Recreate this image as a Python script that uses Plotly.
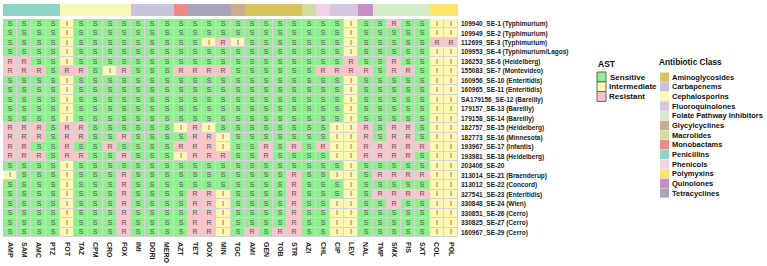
import plotly.graph_objects as go

antibiotics = ["AMP", "SAM", "AMC", "PTZ", "FOT", "TAZ", "CPM", "CRO", "FOX", "IMI", "DORI", "MERO",
               "AZT", "TET", "DOX", "MIN", "TGC", "AMI", "GEN", "TOB", "STR", "AZI", "CHL", "CIP",
               "LEV", "NAL", "TMP", "SMX", "FIS", "SXT", "COL", "POL"]

drug_class = ["Penicillins", "Penicillins", "Penicillins", "Penicillins",
              "Cephalosporins", "Cephalosporins", "Cephalosporins", "Cephalosporins", "Cephalosporins",
              "Carbapenems", "Carbapenems", "Carbapenems",
              "Monobactams",
              "Tetracyclines", "Tetracyclines", "Tetracyclines",
              "Glycylcyclines",
              "Aminoglycosides", "Aminoglycosides", "Aminoglycosides", "Aminoglycosides",
              "Macrolides", "Phenicols",
              "Fluoroquinolones", "Fluoroquinolones",
              "Quinolones",
              "Folate Pathway Inhibitors", "Folate Pathway Inhibitors", "Folate Pathway Inhibitors",
              "Folate Pathway Inhibitors",
              "Polymyxins", "Polymyxins"]

isolates = ["109940_SE-1 (Typhimurium)", "109949_SE-2 (Typhimurium)", "112699_SE-3 (Typhimurium)",
            "109953_SE-4 (Typhimurium/Lagos)", "136253_SE-6 (Heidelberg)", "155083_SE-7 (Montevideo)",
            "160956_SE-10 (Enteritidis)", "160965_SE-11 (Enteritidis)", "SA179156_SE-12 (Bareilly)",
            "179157_SE-13 (Bareilly)", "179158_SE-14 (Bareilly)", "182757_SE-15 (Heidelberg)",
            "182773_SE-16 (Minnesota)", "193967_SE-17 (Infantis)", "193981_SE-18 (Heidelberg)",
            "203406_SE-20", "313014_SE-21 (Braenderup)", "313012_SE-22 (Concord)",
            "327541_SE-23 (Enteritidis)", "330848_SE-24 (Wien)", "330851_SE-26 (Cerro)",
            "330825_SE-27 (Cerro)", "160967_SE-29 (Cerro)"]

# groups: PEN(4) CEPH(5) CARB(3) MONO(1) TET(3) GLY(1) AMINO(4) MAC(1) PHEN(1) FQ(2) QUIN(1) FOLATE(4) POLY(2)
ast_rows = [
    "SSSS ISSSS SSS S SSS S SSSS S S SI S SRSS II",
    "SSSS ISSSS SSS S SSS S SSSS S S SI S SSSS II",
    "SSSS ISSSS SSS S SIR I SSSS S S SI S SSSS RR",
    "SSSS ISSSS SSS S SSS S SSSS S S SI S SSSS II",
    "RRSS ISSSS SSS S SSS S SSSS S S SR S SRSS II",
    "RRRS RRSIR SSS R RRR S SSSS S R RR R SRRS II",
    "SSSS ISSSS SSS S SSS S SSSS S S SI S SSSS II",
    "SSSS ISSSS SSS S SSS S SSSS S S SI S SSSS II",
    "SSSS ISSSS SSS S SSS S SSSS S S SI S SSSS II",
    "SSSS ISSSS SSS S SSS S SSSS S S SI S SSSS II",
    "SSSS ISSSS SSS S SSS S SSSS S S SI S SSSS II",
    "RRRS RRSSS SSS I RIS S SSSS S S II R SRRS II",
    "RRRS RRSSR SSS S RRI S SSSS S S II R SRRS II",
    "RRSS RSSRS SSS R RRI S SRSR S R II R RRRR II",
    "RRRS RRSSR SSS I RRR S SRSS S S II R RRRS II",
    "SSSS ISSSS SSS S SSS S SSSS S S SI S SSSS II",
    "ISSS ISSSR SSS S SSS S SSSR S S II S RRRR II",
    "SSSS ISSSR SSS S SSS S SSSR S S SI S SSSS II",
    "SSSS ISSSR SSS S RRI S SSSR S S SI S RRRR II",
    "SSSS ISSSR SSS S RRI S SSSR S S II S SRSS II",
    "SSSS ISSSR SSS S RRI S SSSR S S II S SSSS II",
    "SSSS ISSSR SSS S RRI S SSSR S S II S SSSS II",
    "SSSS ISSSR SSS S RRI S RSRR S S II S SSSS II",
]

ast_codes = ["S", "I", "R"]
ast_levels = ["Sensitive", "Intermediate", "Resistant"]
ast_colors = ["#90EE90", "#FAF8B4", "#F9C4CA"]

class_names = ["Aminoglycosides", "Carbapenems", "Cephalosporins", "Fluoroquinolones",
               "Folate Pathway Inhibitors", "Glycylcyclines", "Macrolides", "Monobactams",
               "Penicillins", "Phenicols", "Polymyxins", "Quinolones", "Tetracyclines"]
class_colors = ["#D8C35E", "#C8C4D9", "#F7F8BA", "#D5C7DD", "#D3EBC7", "#C9AD8E", "#D5DB9E",
                "#EC8A85", "#8FD4C6", "#F2D1E5", "#FDE56C", "#C590C7", "#ABA3B8"]

FONT = "Liberation Sans, Arial, Helvetica, sans-serif"


def stepped(colors):
    n = len(colors)
    cs = []
    for i, c in enumerate(colors):
        cs.append([i / n, c])
        cs.append([(i + 1) / n, c])
    return cs


calls = [list(r.replace(" ", "")) for r in ast_rows]
z = [[ast_codes.index(c) for c in row] for row in calls]
zc = [[class_names.index(c) for c in drug_class]]

fig = go.Figure()
fig.add_trace(go.Heatmap(
    x=antibiotics, y=isolates, z=z, text=calls, texttemplate="%{text}",
    textfont=dict(size=7, color="#555555", family=FONT),
    colorscale=stepped(ast_colors), zmin=-0.5, zmax=len(ast_colors) - 0.5,
    showscale=False, xgap=1, ygap=1, hoverinfo="skip"))
fig.add_trace(go.Heatmap(
    x=antibiotics, y=["Class"], z=zc, xaxis="x", yaxis="y2",
    colorscale=stepped(class_colors), zmin=-0.5, zmax=len(class_colors) - 0.5,
    showscale=False, hoverinfo="skip"))

W, H = 767, 266
PL, PR, PT, PB = 3, 458, 4, 237


def px2x(px):
    return (px - PL) / (PR - PL)


def py2y(py):
    return (PB - py) / (PB - PT)


shapes = []
annotations = []

# AST legend
annotations.append(dict(x=px2x(596), y=py2y(63.5), xref="paper", yref="paper", text="<b>AST</b>",
                        showarrow=False, xanchor="left", yanchor="middle",
                        font=dict(size=8.5, color="#111", family=FONT)))
ast_label_x = [608, 607, 607]
for i, (lab, col) in enumerate(zip(ast_levels, ast_colors)):
    y0 = 72 + i * 9.8
    shapes.append(dict(type="rect", xref="paper", yref="paper",
                       x0=px2x(597), x1=px2x(606), y0=py2y(y0), y1=py2y(y0 + 9.8),
                       fillcolor=col, line=dict(color="#666666", width=1)))
    annotations.append(dict(x=px2x(ast_label_x[i]), y=py2y(y0 + 5), xref="paper", yref="paper",
                            text=f"<b>{lab}</b>", showarrow=False, xanchor="left", yanchor="middle",
                            font=dict(size=8, color="#111", family=FONT)))

# Class legend
annotations.append(dict(x=px2x(657), y=py2y(62.5), xref="paper", yref="paper",
                        text="<b>Antibiotic Class</b>", showarrow=False, xanchor="left",
                        yanchor="middle", font=dict(size=8.3, color="#111", family=FONT)))
for i, (lab, col) in enumerate(zip(class_names, class_colors)):
    y0 = 72.5 + i * 9.65
    shapes.append(dict(type="rect", xref="paper", yref="paper",
                       x0=px2x(660), x1=px2x(669), y0=py2y(y0), y1=py2y(y0 + 9.3),
                       fillcolor=col, line=dict(width=0)))
    annotations.append(dict(x=px2x(670), y=py2y(y0 + 4.8), xref="paper", yref="paper",
                            text=f"<b>{lab}</b>", showarrow=False, xanchor="left", yanchor="middle",
                            font=dict(size=7.5, color="#111", family=FONT)))

fig.update_layout(
    width=W, height=H,
    margin=dict(l=PL, r=W - PR, t=PT, b=H - PB, pad=0),
    paper_bgcolor="white", plot_bgcolor="#D6D6D6",
    font=dict(family=FONT),
    xaxis=dict(domain=[0, 1], tickmode="array", tickvals=antibiotics,
               ticktext=[f"<b>{a}</b>" for a in antibiotics], tickangle=90,
               tickfont=dict(size=7, color="#222", family=FONT), showgrid=False,
               zeroline=False, ticks="", ticklabelstandoff=4, anchor="y"),
    yaxis=dict(domain=[0, (PB - 19) / (PB - PT)], autorange="reversed", side="right",
               tickmode="array", tickvals=isolates, ticktext=[f"<b>{s}</b>" for s in isolates],
               tickfont=dict(size=6.5, color="#222", family=FONT), showgrid=False,
               zeroline=False, ticks="", ticklabelstandoff=2),
    yaxis2=dict(domain=[(PB - 16) / (PB - PT), 1], showticklabels=False, showgrid=False,
                zeroline=False, anchor="x"),
    shapes=shapes, annotations=annotations,
)

fig.write_html("out.html")
